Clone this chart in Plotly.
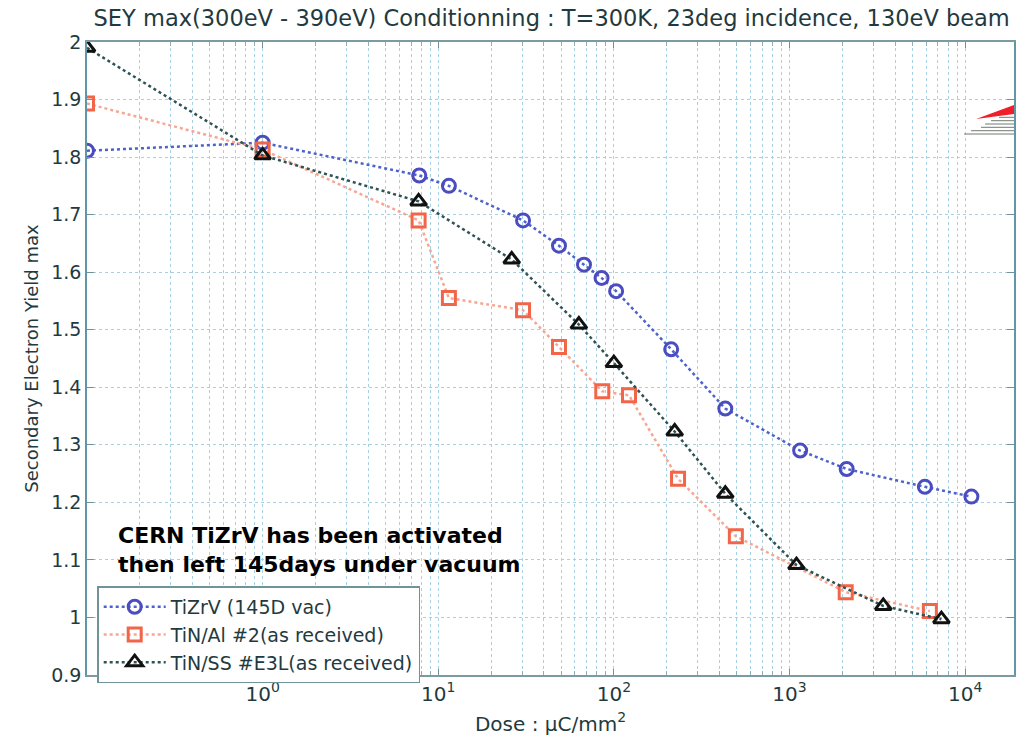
import plotly.graph_objects as go

# ---- data ----
tizrv_dose = [0.1, 1, 7.8, 11.5, 30.4, 48.7, 67.6, 85.1, 103, 212, 431, 1150, 2117, 5902, 10860]
tizrv_sey = [1.811, 1.825, 1.768, 1.750, 1.690, 1.646, 1.613, 1.590, 1.567, 1.466, 1.363, 1.290, 1.258, 1.227, 1.210]

tinal_dose = [0.1, 1, 7.73, 11.5, 30.4, 48.7, 85.9, 122, 232, 495, 2090, 6300]
tinal_sey = [1.893, 1.813, 1.690, 1.555, 1.534, 1.470, 1.393, 1.386, 1.241, 1.141, 1.044, 1.011]

tinss_dose = [0.1, 1, 7.73, 26.2, 63.2, 100, 222, 431, 1096, 3420, 7330]
tinss_sey = [1.990, 1.803, 1.723, 1.622, 1.509, 1.442, 1.323, 1.215, 1.091, 1.020, 0.997]

series_names = ["TiZrV (145D vac)", "TiN/Al #2(as received)", "TiN/SS #E3L(as received)"]

x_tickvals = [1, 10, 100, 1000, 10000]
x_ticktext = ["10<sup>0</sup>", "10<sup>1</sup>", "10<sup>2</sup>", "10<sup>3</sup>", "10<sup>4</sup>"]
x_minor_vals = [m * 10 ** d for d in range(-1, 5) for m in range(2, 10)]
y_tickvals = [0.9, 1.0, 1.1, 1.2, 1.3, 1.4, 1.5, 1.6, 1.7, 1.8, 1.9, 2.0]
y_ticktext = ["0.9", "1", "1.1", "1.2", "1.3", "1.4", "1.5", "1.6", "1.7", "1.8", "1.9", "2"]

title_text = "SEY max(300eV - 390eV) Conditionning : T=300K, 23deg incidence, 130eV beam"
note_text = "CERN TiZrV has been activated<br>then left 145days under vacuum"

TXT = "#1f3a40"
GRID = "#a9cfe0"
FONT = "DejaVu Sans, Verdana, sans-serif"

fig = go.Figure()
fig.add_trace(go.Scatter(
    x=tizrv_dose, y=tizrv_sey, name=series_names[0], mode="lines+markers",
    line=dict(color="#4d63cc", width=2.5, dash="dot"),
    marker=dict(symbol="circle-open", size=13, color="#4a4cc0", line=dict(width=3, color="#4a4cc0")),
))
fig.add_trace(go.Scatter(
    x=tinal_dose, y=tinal_sey, name=series_names[1], mode="lines+markers",
    line=dict(color="#f6a792", width=2.5, dash="dot"),
    marker=dict(symbol="square-open", size=13, color="#f26548", line=dict(width=3, color="#f26548")),
))
fig.add_trace(go.Scatter(
    x=tinss_dose, y=tinss_sey, name=series_names[2], mode="lines+markers",
    line=dict(color="#2e5354", width=2.5, dash="dot"),
    marker=dict(symbol="triangle-up-open", size=14, color="#111111", line=dict(width=3, color="#111111")),
))

L, R, T, B = 87, 0, 42, 71
W, H = 1016, 746

def px(xp, yp):
    return (xp - L) / (W - L - R), (H - B - yp) / (H - T - B)

shapes = []
# red logo fragment at the top right
p1 = px(978, 119); p2 = px(1016, 105); p3 = px(1016, 114)
shapes.append(dict(type="path", xref="paper", yref="paper",
                   path=f"M {p1[0]} {p1[1]} L {p2[0]} {p2[1]} L {p3[0]} {p3[1]} Z",
                   fillcolor="#f0202a", line=dict(width=0)))
for yy, x0 in [(117.3, 1001), (120.7, 993), (124, 987), (127.3, 983), (130.7, 973), (134, 966)]:
    a = px(x0, yy); b = px(1016, yy)
    shapes.append(dict(type="line", xref="paper", yref="paper", x0=a[0], y0=a[1], x1=b[0], y1=b[1],
                       line=dict(color="#707a72", width=1)))

fig.update_layout(
    width=W, height=H,
    margin=dict(l=L, r=R, t=T, b=B, pad=0),
    paper_bgcolor="white", plot_bgcolor="white",
    font=dict(family=FONT, color=TXT, size=19),
    title=dict(text=title_text, x=0.543, xanchor="center", y=0.976, yanchor="middle",
               font=dict(family=FONT, size=22.5, color=TXT)),
    showlegend=True,
    legend=dict(x=0.011, y=0.14, xanchor="left", yanchor="top", bgcolor="white",
                bordercolor="#6f9398", borderwidth=1.5, font=dict(family=FONT, size=19, color=TXT),
                tracegroupgap=0, itemwidth=62),
    shapes=shapes,
    annotations=[dict(text=note_text, xref="paper", yref="paper", x=px(116, 0)[0], y=px(0, 521)[1],
                      xanchor="left", yanchor="top", align="left", showarrow=False,
                      font=dict(family=FONT, size=22, color="black", weight="bold"))],
)

fig.update_xaxes(
    type="log", range=[-1, -1 + (W - L - R) / 176.0],
    tickmode="array", tickvals=x_tickvals, ticktext=x_ticktext,
    ticks="inside", ticklen=6, tickcolor="#6f9398",
    showline=True, linecolor="#7d9aa0", linewidth=1.5, mirror="ticks",
    showgrid=True, gridcolor=GRID, griddash="dot", gridwidth=1,
    minor=dict(tickmode="array", tickvals=x_minor_vals, ticks="inside", ticklen=4,
               tickcolor="#8fb0b5", showgrid=True, gridcolor=GRID, griddash="dot", gridwidth=1),
    tickfont=dict(family=FONT, size=20, color=TXT),
    title=dict(text="Dose : μC/mm<sup>2</sup>", font=dict(family=FONT, size=20, color=TXT), standoff=12),
    zeroline=False,
)
fig.update_yaxes(
    range=[0.9, 2.0], tickmode="array", tickvals=y_tickvals, ticktext=y_ticktext,
    ticks="inside", ticklen=7, tickcolor="#6f9398",
    showline=True, linecolor="#5f97a5", linewidth=1.5, mirror="ticks",
    showgrid=True, gridcolor=GRID, griddash="dot", gridwidth=1,
    tickfont=dict(family=FONT, size=19, color=TXT),
    title=dict(text="Secondary Electron Yield max", font=dict(family=FONT, size=18, color=TXT), standoff=8),
    zeroline=False,
)

fig.write_html("out.html")
